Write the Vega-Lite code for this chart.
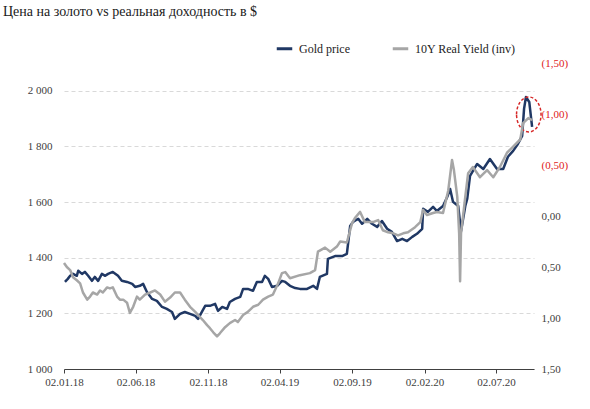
{
  "$schema": "https://vega.github.io/schema/vega-lite/v6.json",
  "autosize": "none",
  "width": 470,
  "height": 306,
  "padding": {"left": 64, "top": 63, "right": 56, "bottom": 40},
  "background": "white",
  "config": {
    "view": {"stroke": null},
    "font": "Liberation Serif, DejaVu Serif, serif",
    "axis": {"labelFont": "Liberation Serif, DejaVu Serif, serif", "labelFontSize": 11, "labelColor": "#404040", "titleFont": "Liberation Serif, DejaVu Serif, serif"},
    "legend": {"labelFont": "Liberation Serif, DejaVu Serif, serif"}
  },
  "title": {
    "text": "Цена на золото vs реальная доходность в $",
    "anchor": "start",
    "frame": "group",
    "dx": -61,
    "offset": 20,
    "font": "Liberation Serif, DejaVu Serif, serif",
    "fontSize": 14,
    "fontWeight": "normal",
    "color": "#1a1a1a"
  },
  "datasets": {
    "gold": [
      {"date": "2018-01-04", "price": 1313}, {"date": "2018-01-10", "price": 1324}, {"date": "2018-01-15", "price": 1335},
      {"date": "2018-01-21", "price": 1342}, {"date": "2018-01-29", "price": 1335}, {"date": "2018-02-01", "price": 1353},
      {"date": "2018-02-09", "price": 1342}, {"date": "2018-02-15", "price": 1349}, {"date": "2018-02-22", "price": 1335},
      {"date": "2018-03-02", "price": 1317}, {"date": "2018-03-08", "price": 1331}, {"date": "2018-03-15", "price": 1317},
      {"date": "2018-03-23", "price": 1342}, {"date": "2018-03-30", "price": 1335}, {"date": "2018-04-05", "price": 1342},
      {"date": "2018-04-15", "price": 1349}, {"date": "2018-04-26", "price": 1335}, {"date": "2018-05-04", "price": 1317},
      {"date": "2018-05-15", "price": 1313}, {"date": "2018-05-26", "price": 1306}, {"date": "2018-06-01", "price": 1295},
      {"date": "2018-06-11", "price": 1299}, {"date": "2018-06-18", "price": 1306}, {"date": "2018-06-26", "price": 1277},
      {"date": "2018-07-07", "price": 1252}, {"date": "2018-07-17", "price": 1245}, {"date": "2018-07-28", "price": 1223},
      {"date": "2018-08-07", "price": 1216}, {"date": "2018-08-18", "price": 1205}, {"date": "2018-08-24", "price": 1180},
      {"date": "2018-09-04", "price": 1198}, {"date": "2018-09-14", "price": 1205}, {"date": "2018-09-25", "price": 1198},
      {"date": "2018-10-06", "price": 1191}, {"date": "2018-10-12", "price": 1180}, {"date": "2018-10-20", "price": 1205},
      {"date": "2018-10-27", "price": 1227}, {"date": "2018-11-06", "price": 1227}, {"date": "2018-11-17", "price": 1234},
      {"date": "2018-11-23", "price": 1209}, {"date": "2018-12-02", "price": 1223}, {"date": "2018-12-12", "price": 1216},
      {"date": "2018-12-18", "price": 1241}, {"date": "2018-12-29", "price": 1252}, {"date": "2019-01-09", "price": 1259},
      {"date": "2019-01-15", "price": 1288}, {"date": "2019-01-25", "price": 1288}, {"date": "2019-02-05", "price": 1281},
      {"date": "2019-02-13", "price": 1313}, {"date": "2019-02-24", "price": 1313}, {"date": "2019-03-02", "price": 1335},
      {"date": "2019-03-09", "price": 1324}, {"date": "2019-03-17", "price": 1295}, {"date": "2019-03-28", "price": 1299},
      {"date": "2019-04-07", "price": 1317}, {"date": "2019-04-14", "price": 1313}, {"date": "2019-04-24", "price": 1299},
      {"date": "2019-05-05", "price": 1291}, {"date": "2019-05-15", "price": 1288}, {"date": "2019-05-30", "price": 1288},
      {"date": "2019-06-12", "price": 1299}, {"date": "2019-06-20", "price": 1288}, {"date": "2019-06-26", "price": 1331},
      {"date": "2019-07-11", "price": 1342}, {"date": "2019-07-13", "price": 1396}, {"date": "2019-07-28", "price": 1406},
      {"date": "2019-08-12", "price": 1406}, {"date": "2019-08-22", "price": 1414}, {"date": "2019-08-29", "price": 1514},
      {"date": "2019-09-04", "price": 1529}, {"date": "2019-09-15", "price": 1540}, {"date": "2019-09-23", "price": 1522},
      {"date": "2019-10-04", "price": 1540}, {"date": "2019-10-14", "price": 1522}, {"date": "2019-10-25", "price": 1511},
      {"date": "2019-11-04", "price": 1532}, {"date": "2019-11-15", "price": 1504}, {"date": "2019-11-25", "price": 1493},
      {"date": "2019-12-06", "price": 1460}, {"date": "2019-12-17", "price": 1468}, {"date": "2019-12-27", "price": 1460},
      {"date": "2020-01-07", "price": 1475}, {"date": "2020-01-17", "price": 1486}, {"date": "2020-01-28", "price": 1504},
      {"date": "2020-01-30", "price": 1576}, {"date": "2020-02-09", "price": 1565}, {"date": "2020-02-20", "price": 1583},
      {"date": "2020-02-28", "price": 1568}, {"date": "2020-03-12", "price": 1586}, {"date": "2020-03-21", "price": 1619},
      {"date": "2020-03-27", "price": 1647}, {"date": "2020-04-02", "price": 1601}, {"date": "2020-04-13", "price": 1586},
      {"date": "2020-04-19", "price": 1496}, {"date": "2020-04-28", "price": 1586}, {"date": "2020-05-02", "price": 1611},
      {"date": "2020-05-08", "price": 1694}, {"date": "2020-05-23", "price": 1737}, {"date": "2020-06-05", "price": 1719},
      {"date": "2020-06-19", "price": 1755}, {"date": "2020-07-04", "price": 1719}, {"date": "2020-07-17", "price": 1719},
      {"date": "2020-07-27", "price": 1763}, {"date": "2020-08-07", "price": 1784}, {"date": "2020-08-17", "price": 1809},
      {"date": "2020-08-26", "price": 1838}, {"date": "2020-08-30", "price": 1935}, {"date": "2020-09-03", "price": 1978},
      {"date": "2020-09-10", "price": 1960}, {"date": "2020-09-16", "price": 1870}
    ],
    "ry": [
      {"date": "2018-01-02", "ry": 0.46}, {"date": "2018-01-08", "ry": 0.50}, {"date": "2018-01-15", "ry": 0.53},
      {"date": "2018-01-21", "ry": 0.60}, {"date": "2018-01-29", "ry": 0.63}, {"date": "2018-02-05", "ry": 0.66},
      {"date": "2018-02-11", "ry": 0.75}, {"date": "2018-02-20", "ry": 0.82}, {"date": "2018-02-26", "ry": 0.79},
      {"date": "2018-03-04", "ry": 0.75}, {"date": "2018-03-13", "ry": 0.77}, {"date": "2018-03-19", "ry": 0.73},
      {"date": "2018-03-25", "ry": 0.75}, {"date": "2018-04-03", "ry": 0.70}, {"date": "2018-04-09", "ry": 0.71},
      {"date": "2018-04-15", "ry": 0.70}, {"date": "2018-04-24", "ry": 0.79}, {"date": "2018-04-30", "ry": 0.82},
      {"date": "2018-05-07", "ry": 0.82}, {"date": "2018-05-15", "ry": 0.85}, {"date": "2018-05-21", "ry": 0.95},
      {"date": "2018-05-28", "ry": 0.89}, {"date": "2018-06-05", "ry": 0.79}, {"date": "2018-06-11", "ry": 0.82},
      {"date": "2018-06-22", "ry": 0.77}, {"date": "2018-07-03", "ry": 0.75}, {"date": "2018-07-13", "ry": 0.73},
      {"date": "2018-07-24", "ry": 0.77}, {"date": "2018-08-03", "ry": 0.84}, {"date": "2018-08-14", "ry": 0.80},
      {"date": "2018-08-24", "ry": 0.75}, {"date": "2018-09-04", "ry": 0.75}, {"date": "2018-09-14", "ry": 0.82},
      {"date": "2018-09-25", "ry": 0.89}, {"date": "2018-10-06", "ry": 0.94}, {"date": "2018-10-16", "ry": 0.99},
      {"date": "2018-10-22", "ry": 1.02}, {"date": "2018-10-31", "ry": 1.07}, {"date": "2018-11-06", "ry": 1.10},
      {"date": "2018-11-13", "ry": 1.14}, {"date": "2018-11-21", "ry": 1.18}, {"date": "2018-11-27", "ry": 1.15},
      {"date": "2018-12-08", "ry": 1.09}, {"date": "2018-12-18", "ry": 1.05}, {"date": "2018-12-29", "ry": 1.02},
      {"date": "2019-01-04", "ry": 1.04}, {"date": "2019-01-15", "ry": 0.97}, {"date": "2019-01-25", "ry": 0.94},
      {"date": "2019-02-05", "ry": 0.89}, {"date": "2019-02-16", "ry": 0.87}, {"date": "2019-02-26", "ry": 0.82},
      {"date": "2019-03-09", "ry": 0.79}, {"date": "2019-03-19", "ry": 0.77}, {"date": "2019-03-30", "ry": 0.66},
      {"date": "2019-04-07", "ry": 0.56}, {"date": "2019-04-14", "ry": 0.55}, {"date": "2019-04-24", "ry": 0.61},
      {"date": "2019-05-15", "ry": 0.58}, {"date": "2019-06-05", "ry": 0.56}, {"date": "2019-06-16", "ry": 0.53},
      {"date": "2019-06-22", "ry": 0.35}, {"date": "2019-07-07", "ry": 0.31}, {"date": "2019-07-18", "ry": 0.35},
      {"date": "2019-08-01", "ry": 0.30}, {"date": "2019-08-08", "ry": 0.25}, {"date": "2019-08-22", "ry": 0.26},
      {"date": "2019-09-02", "ry": 0.07}, {"date": "2019-09-08", "ry": 0.02}, {"date": "2019-09-19", "ry": -0.04},
      {"date": "2019-09-29", "ry": 0.06}, {"date": "2019-10-10", "ry": 0.06}, {"date": "2019-10-16", "ry": 0.06},
      {"date": "2019-10-27", "ry": 0.04}, {"date": "2019-11-06", "ry": 0.14}, {"date": "2019-11-17", "ry": 0.16},
      {"date": "2019-11-28", "ry": 0.17}, {"date": "2019-12-08", "ry": 0.19}, {"date": "2019-12-19", "ry": 0.17},
      {"date": "2019-12-29", "ry": 0.16}, {"date": "2020-01-13", "ry": 0.11}, {"date": "2020-01-24", "ry": 0.06},
      {"date": "2020-01-30", "ry": -0.06}, {"date": "2020-02-07", "ry": -0.01}, {"date": "2020-02-20", "ry": -0.03},
      {"date": "2020-02-28", "ry": -0.04}, {"date": "2020-03-12", "ry": -0.03}, {"date": "2020-03-23", "ry": -0.25},
      {"date": "2020-03-31", "ry": -0.55}, {"date": "2020-04-04", "ry": -0.45}, {"date": "2020-04-11", "ry": -0.19},
      {"date": "2020-04-15", "ry": 0.17}, {"date": "2020-04-17", "ry": 0.64}, {"date": "2020-04-19", "ry": 0.17},
      {"date": "2020-04-28", "ry": -0.19}, {"date": "2020-05-04", "ry": -0.42}, {"date": "2020-05-14", "ry": -0.48},
      {"date": "2020-05-29", "ry": -0.38}, {"date": "2020-06-13", "ry": -0.45}, {"date": "2020-06-26", "ry": -0.38},
      {"date": "2020-07-10", "ry": -0.48}, {"date": "2020-07-25", "ry": -0.62}, {"date": "2020-08-07", "ry": -0.68},
      {"date": "2020-08-22", "ry": -0.75}, {"date": "2020-08-28", "ry": -0.91}, {"date": "2020-09-08", "ry": -0.96},
      {"date": "2020-09-16", "ry": -0.94}
    ],
    "mark": [{"date": "2020-09-09", "price": 1915}]
  },
  "layer": [
    {
      "layer": [
        {
          "data": {"name": "gold"},
          "mark": {"type": "line", "strokeWidth": 2.5, "strokeJoin": "round"},
          "encoding": {
            "x": {
              "field": "date", "type": "temporal",
              "scale": {"domain": [{"year": 2018, "month": 1, "date": 2}, {"year": 2020, "month": 9, "date": 20}]},
              "axis": {
                "title": null,
                "values": [
                  {"year": 2018, "month": 1, "date": 2}, {"year": 2018, "month": 6, "date": 2},
                  {"year": 2018, "month": 11, "date": 2}, {"year": 2019, "month": 4, "date": 2},
                  {"year": 2019, "month": 9, "date": 2}, {"year": 2020, "month": 2, "date": 2},
                  {"year": 2020, "month": 7, "date": 2}
                ],
                "format": "%d.%m.%y",
                "grid": false,
                "domainColor": "#404040",
                "tickColor": "#404040",
                "tickSize": 4,
                "labelPadding": 3,
                "labelFlush": false
              }
            },
            "y": {
              "field": "price", "type": "quantitative",
              "scale": {"domain": [1000, 2100], "nice": false, "zero": false},
              "axis": {
                "title": null,
                "values": [1000, 1200, 1400, 1600, 1800, 2000],
                "labelExpr": "replace(format(datum.value, ','), ',', ' ')",
                "domain": false,
                "ticks": false,
                "labelPadding": 12,
                "grid": true,
                "gridColor": "#D9D9D9",
                "gridDash": [4, 3],
                "gridWidth": 1
              }
            },
            "color": {
              "datum": "Gold price",
              "scale": {"domain": ["Gold price", "10Y Real Yield (inv)"], "range": ["#203864", "#A6A6A6"]},
              "legend": {
                "title": null,
                "orient": "none",
                "legendX": 211,
                "legendY": -24,
                "direction": "horizontal",
                "symbolType": "stroke",
                "symbolStrokeWidth": 3,
                "symbolSize": 240,
                "labelFontSize": 12,
                "labelFontWeight": "normal",
                "labelColor": "#222222",
                "labelOffset": 5,
                "columnPadding": 36
              }
            }
          }
        },
        {
          "data": {"name": "mark"},
          "mark": {
            "type": "point",
            "shape": "M -0.7 0 A 0.7 1 0 1 1 0.7 0 A 0.7 1 0 1 1 -0.7 0 Z",
            "size": 1225,
            "filled": false,
            "stroke": "#D62828",
            "strokeWidth": 1.5,
            "strokeDash": [3, 2],
            "opacity": 1
          },
          "encoding": {
            "x": {"field": "date", "type": "temporal"},
            "y": {"field": "price", "type": "quantitative"}
          }
        }
      ]
    },
    {
      "data": {"name": "ry"},
      "mark": {"type": "line", "strokeWidth": 2.5, "strokeJoin": "round"},
      "encoding": {
        "x": {"field": "date", "type": "temporal"},
        "y": {
          "field": "ry", "type": "quantitative",
          "scale": {"domain": [-1.5, 1.5], "reverse": true, "nice": false, "zero": false},
          "axis": {
            "orient": "right",
            "title": null,
            "values": [-1.5, -1, -0.5, 0, 0.5, 1, 1.5],
            "labelExpr": "datum.value < 0 ? '(' + replace(format(-datum.value, '.2f'), '.', ',') + ')' : replace(format(datum.value, '.2f'), '.', ',')",
            "labelColor": {"condition": {"test": "datum.value < 0", "value": "#E02020"}, "value": "#404040"},
            "domain": false,
            "ticks": false,
            "grid": false,
            "labelPadding": 7
          }
        },
        "color": {"datum": "10Y Real Yield (inv)"}
      }
    }
  ],
  "resolve": {"scale": {"y": "independent"}}
}
